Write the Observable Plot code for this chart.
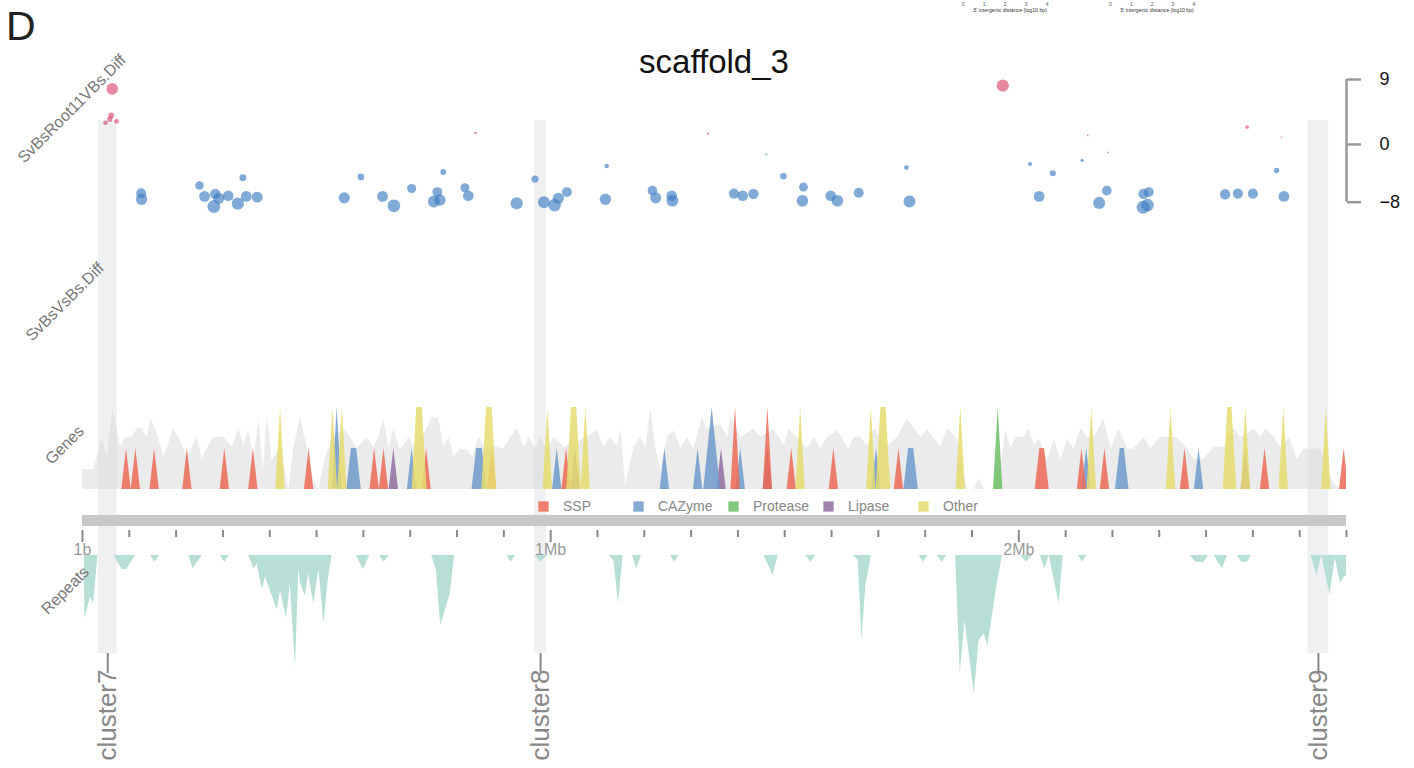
<!DOCTYPE html>
<html>
<head>
<meta charset="utf-8">
<script src="https://cdn.jsdelivr.net/npm/d3@7"></script>
<script src="https://cdn.jsdelivr.net/npm/@observablehq/plot@0.6"></script>
<style>
  body { margin: 0; background: #fff; }
  #chart { position: relative; width: 1414px; height: 768px; overflow: hidden;
           font-family: "Liberation Sans", Arial, Helvetica, sans-serif; }
</style>
</head>
<body>
<div id="chart"></div>
<script>
// ---------------------------------------------------------------- data
const panelLetter = "D";
const scaffoldName = "scaffold_3";
const scaffoldLengthKb = 2700;

const clusterNames = ["cluster7", "cluster8", "cluster9"];
const clusterStartKb = [34, 966, 2618];
const clusterEndKb = [74, 991, 2662];

const axisMajorKb = [0, 1000, 2000];
const axisTickLabels = ["1b", "1Mb", "2Mb"];
const axisMinorStepKb = 100;

const trackLabels = ["SvBsRoot11VBs.Diff", "SvBsVsBs.Diff", "Genes", "Repeats"];

const diffTicks = [-8, 0, 9];
// expression difference per gene: [position kb, log2 difference]
const diffPoints = [
  [63.5, 7.7], [61.3, 4.0], [58.3, 3.5], [49.1, 3.0], [72.6, 3.2],
  [125.4, -6.76], [126.1, -7.6], [250, -5.7], [260.7, -7.2], [283.5, -6.85],
  [280.6, -8.6], [291.2, -7.45], [311.3, -7.1], [331.8, -8.2], [349.8, -7.2],
  [373.3, -7.3], [342.5, -4.6], [559.2, -7.4], [594.7, -4.5], [641, -7.2],
  [665.2, -8.5], [703, -6.1], [770.7, -3.8], [757.9, -6.6], [750.6, -7.9],
  [763.5, -7.7], [816.9, -6.0], [824.1, -7.1], [927.4, -8.15], [966.5, -4.8],
  [985.7, -8.0], [1008.5, -8.4], [1016.5, -7.45], [1034.8, -6.6], [1119.7, -3.0],
  [1116.9, -7.6], [1217.3, -6.4], [1224.4, -7.4], [1258.5, -7.1], [1260, -7.8],
  [1391.7, -6.8], [1410.3, -7.1], [1433.1, -6.85], [1460.9, -1.4], [1497.2, -4.4],
  [1540, -5.9], [1537.8, -7.8], [1598.3, -7.1], [1612.6, -7.8], [1658.1, -6.7],
  [1760, -3.2], [1766.5, -7.9], [2024.1, -2.7], [2043.4, -7.2], [2072.6, -4.0],
  [2135.3, -2.2], [2190.2, -1.1], [2188, -6.4], [2171.6, -8.1], [2266.4, -6.85],
  [2277.8, -6.6], [2265.6, -8.7], [2275, -8.4], [2440.8, -6.9], [2467.9, -6.8],
  [2500, -6.8], [2550.6, -3.6], [2566.2, -7.2],
  [839.7, 1.6], [1336.1, 1.5], [1965.8, 8.15], [2147.4, 1.25], [2487.8, 2.4], [2561.3, 1.0]
];

const geneCategories = ["SSP", "CAZyme", "Protease", "Lipase", "Other"];
const categoryColors = ["#ec6a56", "#6f9acb", "#6cbf64", "#8f6f9f", "#e6dc6e"];

// genes per category: [centre kb, count, flat-top width kb, half base kb]
const sspGenes = [
  [94, 1], [114, 1], [154, 1], [224, 1], [304, 1], [365, 1], [484, 1], [624, 1],
  [644, 1], [735, 1], [875, 1], [1034, 1], [1395, 2], [1464, 2], [1515, 1],
  [1605, 1], [1744, 1], [2050, 1, 10], [2135, 1], [2184, 1], [2355, 1], [2526, 1], [2695, 1]
];
const cazymeGenes = [
  [544, 2], [580, 1, 11], [704, 1], [848, 1, 12], [1014, 1], [1244, 1], [1315, 1],
  [1345, 2, 0, 18], [1406, 1], [1696, 1], [1770, 1, 11], [2145, 1], [2221, 1, 9], [2385, 1]
];
const proteaseGenes = [[1956, 2]];
const lipaseGenes = [[665, 1], [1053, 1], [1365, 1], [1464, 1], [2485, 1]];
const otherGenes = [
  [423, 2], [535, 2], [555, 2], [720, 2, 12], [869, 2, 12], [994, 2], [1050, 2, 11],
  [1075, 2], [1534, 2], [1685, 2], [1711, 2, 11], [1876, 2], [2156, 2], [2325, 2],
  [2451, 2, 9], [2485, 2], [2566, 2], [2657, 2]
];

// overall gene density: [kb, density]
const geneDensity = [
  [0,0.49],[24,0.49],[42,1.23],[53,0.79],[65,1.98],[81,1.03],[92,1.27],[106,1.27],[117,1.49],[127,1.49],
  [138,1.27],[147,1.72],[160,1.35],[174,0.79],[195,1.49],[209,1.19],[224,0.79],[245,1.27],[256,0.74],[266,0.99],
  [281,1.27],[302,1.27],[320,1.03],[334,1.49],[345,1.07],[355,1.47],[366,0.70],[377,1.72],[386,0.46],[395,1.80],
  [405,0.70],[423,1.03],[441,0],[452,1.03],[466,1.76],[480,1.03],[494,0.22],[505,0],[519,0.79],[537,1.27],
  [558,1.49],[573,1.27],[587,0.99],[608,1.27],[622,1.03],[633,1.27],[644,1.72],[655,0.99],[665,1.49],[679,0.95],
  [697,1.27],[712,0.99],[736,1.49],[747,1.76],[761,1.72],[772,1.03],[783,1.27],[793,0.79],[808,0.99],[822,0.95],
  [833,0.79],[847,1.27],[861,0.99],[882,1.03],[900,0.99],[915,1.27],[929,1.49],[943,1.03],[954,1.27],[968,0.99],
  [979,1.27],[993,0.99],[1007,1.27],[1029,1.03],[1064,1.19],[1100,1.43],[1114,1.03],[1128,1.27],[1142,1.03],[1150,1.47],
  [1160,0.1],[1178,1.03],[1192,1.27],[1203,1.03],[1214,1.96],[1224,1.03],[1235,0.46],[1249,1.27],[1264,1.43],[1278,0.99],
  [1292,1.27],[1306,0.99],[1324,1.76],[1335,1.47],[1363,1.6],[1378,1.27],[1385,1.76],[1406,1.27],[1434,1.47],[1449,1.27],
  [1477,1.47],[1499,1.07],[1509,1.47],[1527,1.27],[1548,0.99],[1563,1.27],[1577,0.99],[1591,1.27],[1613,1.43],[1637,0.99],
  [1648,1.27],[1662,1.27],[1677,1.07],[1691,1.49],[1719,1.03],[1741,1.27],[1762,1.72],[1791,1.27],[1805,1.47],[1833,1.03],
  [1848,1.49],[1869,1.23],[1890,0],[1905,0],[1915,0.26],[1926,0],[1944,0],[1965,0.79],[1972,1.47],[1983,0.99],
  [1994,1.27],[2011,1.27],[2022,1.49],[2033,1.07],[2044,1.23],[2061,0.70],[2076,1.23],[2090,0.70],[2104,1.23],[2118,0.99],
  [2133,1.49],[2147,1.27],[2161,1.27],[2182,1.72],[2197,0.99],[2214,1.49],[2232,0.99],[2246,0.99],[2268,1.27],[2282,0.99],
  [2303,1.27],[2318,1.27],[2339,1.27],[2360,0.99],[2375,0.74],[2396,0.74],[2417,1.03],[2439,1.03],[2460,1.49],[2474,1.27],
  [2503,1.47],[2517,1.27],[2528,1.49],[2546,1.27],[2560,1.03],[2578,1.27],[2595,0.74],[2610,0.99],[2631,0.99],[2645,0.99],
  [2660,0.42],[2674,0.14],[2688,0],[2700,0]
];

// repeat coverage: [kb, fraction]
const repeatCoverage = [
  [4,0],[5,0.45],[17,0.30],[24,0.345],[33,0],
  [67,0],[85,0.10],[95,0.10],[113,0],
  [145,0],[155,0.048],[165,0],
  [227,0],[236,0.095],[256,0],
  [295,0],[304,0.048],[313,0],
  [355,0],[366,0.095],[373,0.06],[384,0.24],[391,0.155],[416,0.39],[423,0.25],[436,0.45],[444,0.2],
  [455,0.80],[462,0.1],[466,0.2],[476,0.29],[483,0.13],[494,0.345],[505,0.1],[516,0.49],[524,0.2],[533,0],
  [585,0],[600,0.10],[614,0],
  [635,0],[644,0.048],[655,0],
  [746,0],[756,0.107],[765,0.5],[785,0.286],[795,0],
  [906,0],[916,0.048],[925,0],
  [966,0],[979,0.048],[993,0],
  [1125,0],[1135,0.036],[1145,0.345],[1155,0],
  [1175,0],[1184,0.095],[1194,0],
  [1256,0],[1265,0.048],[1274,0],
  [1456,0],[1475,0.143],[1486,0],
  [1545,0],[1556,0.048],[1566,0],
  [1647,0],[1657,0.036],[1665,0.607],[1673,0.226],[1685,0],
  [1787,0],[1796,0.048],[1806,0],
  [1826,0],[1836,0.048],[1846,0],
  [1865,0],[1875,0.845],[1885,0.464],[1905,0.988],[1915,0.607],[1926,0.56],[1934,0.643],[1954,0.202],[1965,0],
  [2004,0],[2016,0.048],[2029,0],
  [2046,0],[2056,0.095],[2065,0],[2086,0.345],[2095,0],
  [2127,0],[2136,0.048],[2145,0],
  [2366,0],[2378,0.048],[2396,0.048],[2405,0],
  [2417,0],[2435,0.095],[2446,0],
  [2467,0],[2476,0.048],[2489,0.048],[2496,0],
  [2624,0],[2637,0.143],[2647,0],[2665,0.286],[2676,0.02],[2687,0.2],[2695,0.155],[2700,0.143]
];

// small axes of the neighbouring panel
const intergenicTicks = [0, 1, 2, 3, 4];
const intergenicLabel = "5' intergenic distance (log10 bp)";

// ---------------------------------------------------------------- layout
const FONT = '"Liberation Sans", Arial, Helvetica, sans-serif';
const W = 1414;
const chart = document.getElementById("chart");
const xScale = {domain: [0, scaffoldLengthKb]};
const base = {
  width: W, marginLeft: 82, marginRight: 68,
  style: {background: "transparent", overflow: "visible", fontFamily: FONT}
};
function place(node, top) {
  node.style.position = "absolute";
  node.style.left = "0px";
  node.style.top = top + "px";
  chart.appendChild(node);
}

// cluster highlight bands with their labels underneath
const clusters = clusterNames.map((name, i) => ({
  name, start: clusterStartKb[i], end: clusterEndKb[i], mid: (clusterStartKb[i] + clusterEndKb[i]) / 2
}));
place(Plot.plot({
  ...base, height: 648, marginTop: 0, marginBottom: 115,
  x: xScale,
  marks: [
    Plot.rect(clusters, {x1: "start", x2: "end", fill: "#eff0f2"}),
    Plot.axisX(clusters.map(d => d.mid), {
      anchor: "bottom", tickSize: 20, tickPadding: -4, tickRotate: -90,
      tickFormat: d => clusters.find(c => c.mid === d).name,
      fontSize: 26, stroke: "#888", fill: "#888", strokeWidth: 2, label: null
    })
  ]
}), 120);

// expression difference dots
const diffs = diffPoints.map(([kb, v]) => ({kb, v}));
place(Plot.plot({
  ...base, height: 160, marginTop: 19, marginBottom: 18.3,
  x: {...xScale, axis: null},
  y: {domain: [-8, 9]},
  r: {type: "linear", domain: [0, 9], range: [0, 6.75]},
  color: {domain: ["up", "down"], range: ["#d94a6e", "#3e7cc2"]},
  marks: [
    Plot.dot(diffs, {x: "kb", y: "v", r: d => Math.abs(d.v), fill: d => d.v > 0 ? "up" : "down",
                     fillOpacity: 0.65, stroke: null}),
    Plot.ruleX([scaffoldLengthKb], {y1: -8, y2: 9, stroke: "#999", strokeWidth: 2.5}),
    Plot.axisY({anchor: "right", ticks: diffTicks, tickSize: 14, tickPadding: 19, fontSize: 18,
                stroke: "#999", fill: "#111", strokeWidth: 2.5, label: null})
  ]
}), 60);

// gene track: density background and one triangle per gene
function genePoints(genes, category) {
  const pts = [];
  genes.forEach(([kb, n, flat = 0, half = 10], i) => {
    const id = category + i;
    pts.push({id, kb: kb - flat / 2 - half, v: 0});
    pts.push({id, kb: kb - flat / 2, v: n});
    pts.push({id, kb: kb + flat / 2, v: n});
    pts.push({id, kb: kb + flat / 2 + half, v: 0});
  });
  return pts;
}
const geneSets = {SSP: sspGenes, CAZyme: cazymeGenes, Protease: proteaseGenes, Lipase: lipaseGenes, Other: otherGenes};
const drawOrder = ["Lipase", "CAZyme", "SSP", "Protease", "Other"];
place(Plot.plot({
  ...base, height: 96, marginTop: 12, marginBottom: 2,
  x: {...xScale, axis: null},
  y: {domain: [0, 2], axis: null},
  color: {domain: geneCategories, range: categoryColors},
  marks: [
    Plot.areaY(geneDensity, {x: d => d[0], y1: 0, y2: d => d[1], fill: "#d2d2d2", fillOpacity: 0.45, curve: "linear"}),
    ...drawOrder.map(cat => Plot.areaY(genePoints(geneSets[cat], cat), {
      x: "kb", y1: 0, y2: "v", z: "id", fill: () => cat, fillOpacity: 0.85, curve: "linear", clip: true
    }))
  ]
}), 395);

// category legend
place(Plot.plot({
  width: W, height: 20, marginLeft: 542.5, marginRight: 491.5, marginTop: 0, marginBottom: 0,
  style: base.style,
  x: {type: "point", domain: geneCategories, padding: 0, axis: null},
  color: {domain: geneCategories, range: categoryColors},
  marks: [
    Plot.dot(geneCategories, {x: d => d, symbol: "square", r: 5.8, fill: d => d, fillOpacity: 0.85, stroke: null}),
    Plot.text(geneCategories, {x: d => d, text: d => d, dx: 19.5, textAnchor: "start", fontSize: 14, fill: "#888"})
  ]
}), 496);

// scaffold coordinate bar
place(Plot.plot({
  ...base, height: 45, marginTop: 0, marginBottom: 30,
  x: xScale,
  marks: [
    Plot.rect([[0, scaffoldLengthKb]], {x1: d => d[0], x2: d => d[1], insetBottom: 4, fill: "#c8c8c8"}),
    Plot.axisX({ticks: d3.range(0, scaffoldLengthKb + 1, axisMinorStepKb).filter(t => !axisMajorKb.includes(t)),
                tickSize: 7, tickFormat: () => "", stroke: "#888", strokeWidth: 2, label: null}),
    Plot.axisX({ticks: axisMajorKb, tickSize: 12, tickPadding: 1,
                tickFormat: d => axisTickLabels[axisMajorKb.indexOf(d)],
                fontSize: 16, stroke: "#888", fill: "#999", strokeWidth: 2, label: null})
  ]
}), 515);

// repeat coverage, drawn downwards
place(Plot.plot({
  ...base, height: 145, marginTop: 0, marginBottom: 5,
  x: {...xScale, axis: null},
  y: {domain: [0, 1], reverse: true, axis: null},
  marks: [
    Plot.areaY(repeatCoverage, {x: d => d[0], y1: 0, y2: d => d[1], fill: "#b3ddd3", fillOpacity: 0.95, curve: "linear"})
  ]
}), 555);

// small axes left over from the neighbouring panel
[[962.7, 1046.7, 5], [1110, 1193.3, 5]].forEach(([l, r, shift]) => {
  place(Plot.plot({
    width: W, height: 16, marginLeft: l, marginRight: W - r, marginTop: 0, marginBottom: 15,
    style: base.style,
    x: {domain: [0, 4]},
    marks: [
      Plot.axisX({ticks: intergenicTicks, tickSize: 0, tickPadding: 1, tickFormat: d => String(d),
                  fontSize: 5, fill: "#555", label: null}),
      Plot.text([intergenicLabel], {frameAnchor: "bottom", dy: 10, dx: shift, fontSize: 5.2, fill: "#333"})
    ]
  }), 0);
});

// titles and track labels
const svg = d3.create("svg").attr("width", W).attr("height", 768)
  .style("position", "absolute").style("left", 0).style("top", 0).style("overflow", "visible")
  .attr("font-family", FONT);
svg.append("text").attr("x", 6).attr("y", 40).attr("font-size", 41).attr("fill", "#222").text(panelLetter);
svg.append("text").attr("x", 714).attr("y", 73).attr("font-size", 33).attr("fill", "#111")
  .attr("text-anchor", "middle").text(scaffoldName);
const labelAnchors = [[127, 61], [105, 269], [85, 432], [90, 573]];
trackLabels.forEach((t, i) => {
  const [x, y] = labelAnchors[i];
  svg.append("text").attr("transform", `translate(${x},${y}) rotate(-45)`)
    .attr("text-anchor", "end").attr("font-size", 16).attr("fill", "#777").text(t);
});
chart.appendChild(svg.node());
</script>
</body>
</html>
